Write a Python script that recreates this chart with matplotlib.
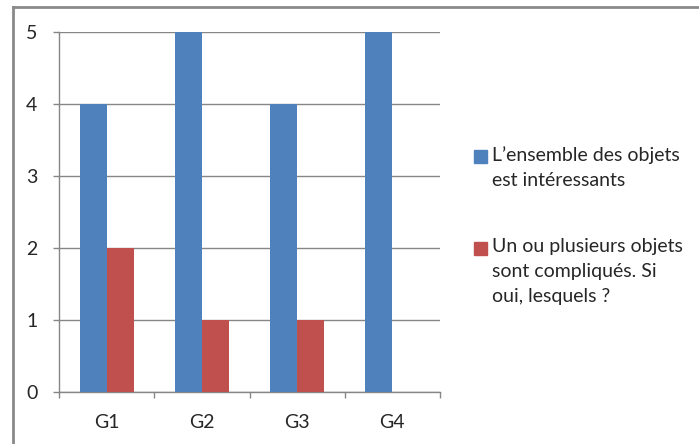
import numpy as np
import matplotlib.pyplot as plt
from matplotlib.patches import Rectangle

groups = ['G1', 'G2', 'G3', 'G4']
interesting = [4, 5, 4, 5]
complicated = [2, 1, 1, 0]
series_names = ['L\u2019ensemble des objets\nest intéressants',
                'Un ou plusieurs objets\nsont compliqués. Si\noui, lesquels ?']
colors = ['#4F81BD', '#C0504D']

plt.rcParams['font.family'] = ['Lato', 'DejaVu Sans']
grid_col = '#868686'
text_col = '#262626'
fs = 14

W, H = 699, 444
fig = plt.figure(figsize=(W / 100, H / 100), dpi=100)
ax = fig.add_axes([59 / W, 52 / H, 381 / W, 360 / H])

x = np.arange(len(groups))
w = 0.284
ax.bar(x - w / 2, interesting, w, color=colors[0], zorder=3)
ax.bar(x + w / 2, complicated, w, color=colors[1], zorder=3)

ax.set_xlim(-0.5, len(groups) - 0.5)
ax.set_ylim(0, 5)
ax.set_yticks(range(6))
ax.yaxis.grid(True, color=grid_col, linewidth=1, zorder=0)

# category labels centred, tick marks on the boundaries
ax.set_xticks(x)
ax.set_xticklabels(groups)
ax.tick_params(axis='x', length=0, pad=16, labelsize=fs, labelcolor=text_col)
ax.set_xticks(np.arange(-0.5, len(groups)), minor=True)
ax.tick_params(axis='x', which='minor', length=4.5, color=grid_col, width=1)
ax.tick_params(axis='y', length=4.5, color=grid_col, width=1, pad=11,
               labelsize=fs, labelcolor=text_col)

for s in ['top', 'right']:
    ax.spines[s].set_visible(False)
for s in ['left', 'bottom']:
    ax.spines[s].set_color(grid_col)
    ax.spines[s].set_linewidth(1)

# legend: coloured square plus wrapped label, top line level with the square
legend_tops = [150, 242]
for top, name, c in zip(legend_tops, series_names, colors):
    fig.add_artist(Rectangle((474 / W, 1 - (top + 13) / H), 13 / W, 13 / H,
                             transform=fig.transFigure, color=c))
    fig.text(492 / W, 1 - (top - 4) / H, name, ha='left', va='top',
             fontsize=fs, color=text_col, linespacing=1.58)

# chart frame, clipped on the right and bottom
fig.add_artist(plt.Line2D([13 / W, 13 / W], [0, 1 - 7 / H],
                          transform=fig.transFigure, color='#8a8a8a', linewidth=2))
fig.add_artist(plt.Line2D([13 / W, 1], [1 - 7 / H, 1 - 7 / H],
                          transform=fig.transFigure, color='#8a8a8a', linewidth=2))

fig.savefig('out.png', dpi=100)
